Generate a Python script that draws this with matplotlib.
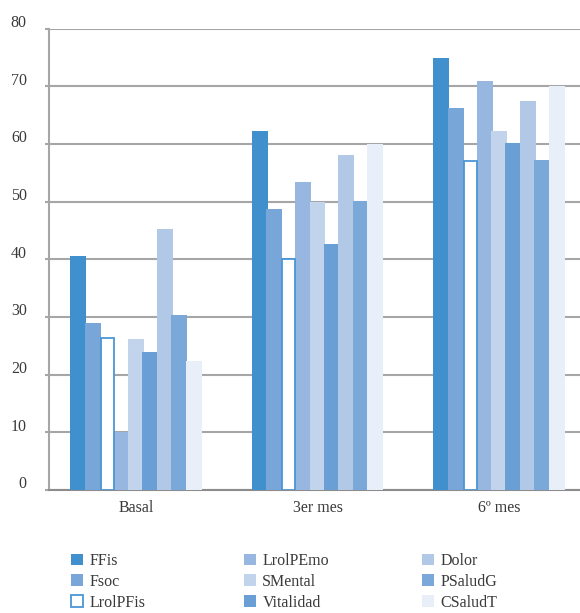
import matplotlib
matplotlib.use('Agg')
import matplotlib.pyplot as plt
import matplotlib.transforms as mtransforms
import numpy as np

plt.rcParams['font.family'] = ['Liberation Serif', 'DejaVu Serif']

# categorías (momentos de evaluación) y dimensiones del SF-36
periodos = ['Basal', '3er mes', '6º mes']
dimensiones = ['FFis', 'Fsoc', 'LrolPFis', 'LrolPEmo', 'SMental',
               'Vitalidad', 'Dolor', 'PSaludG', 'CSaludT']

# puntuaciones medias por dimensión (Basal, 3er mes, 6º mes)
FFis = [40.6, 62.2, 74.9]
Fsoc = [29.0, 48.7, 66.3]
LrolPFis = [26.3, 40.0, 57.0]
LrolPEmo = [10.0, 53.4, 71.0]
SMental = [26.1, 50.0, 62.2]
Vitalidad = [23.9, 42.7, 60.2]
Dolor = [45.2, 58.1, 67.5]
PSaludG = [30.3, 50.2, 57.2]
CSaludT = [22.4, 60.0, 70.1]

series = [FFis, Fsoc, LrolPFis, LrolPEmo, SMental, Vitalidad, Dolor, PSaludG, CSaludT]
colores = ['#4190CE', '#78A6D8', 'white', '#97B7E0', '#C2D3EC',
           '#6A9FD5', '#B2C8E7', '#7AA8D9', '#E8EFF8']

txt_color = '#3a3a3a'

fig = plt.figure(figsize=(5.8, 6.13), dpi=100)
ax = fig.add_axes([0.0845, 0.2007, 0.9155, 0.7525])

x = np.arange(len(periodos))
paso = 0.0793
ancho = 0.088
handles = []
for i, (vals, col) in enumerate(zip(series, colores)):
    pos = x + (i - 4) * paso
    if col == 'white':
        # barra hueca, encima de las vecinas para que se vea el contorno
        b = ax.bar(pos, vals, width=ancho * 0.8, color='white', edgecolor='#4A96D4',
                   linewidth=1.3, label=dimensiones[i], zorder=4)
    else:
        b = ax.bar(pos, vals, width=ancho, color=col, linewidth=0,
                   label=dimensiones[i], zorder=3)
    handles.append(b)

ax.set_xlim(-0.479, 2.446)
ax.set_ylim(0, 80)
ax.set_yticks(np.arange(0, 81, 10))
ax.set_xticks(x)
ax.set_xticklabels(periodos)

ax.yaxis.grid(True, color='#A6A6A6', linewidth=1.5)
ax.set_axisbelow(True)
for s in ['top', 'right']:
    ax.spines[s].set_visible(False)
ax.spines['left'].set_color('#A6A6A6')
ax.spines['left'].set_linewidth(1.5)
ax.spines['bottom'].set_color('#8C8C8C')
ax.spines['bottom'].set_linewidth(1.5)

ax.tick_params(axis='y', length=3, width=1.5, color='#A6A6A6', pad=13,
               labelsize=11.5, labelcolor=txt_color)
ax.tick_params(axis='x', length=0, pad=7, labelsize=11.5, labelcolor=txt_color)
subir = mtransforms.ScaledTranslation(0, 1.2 / 72, fig.dpi_scale_trans)
for lab in ax.get_yticklabels():
    lab.set_verticalalignment('baseline')
    lab.set_transform(lab.get_transform() + subir)

# leyenda en tres columnas fijas
xs_leg = [0.1224, 0.4207, 0.7276]
for c in range(3):
    fig.legend(handles=handles[c * 3:(c + 1) * 3], loc='upper left',
               bbox_to_anchor=(xs_leg[c], 0.098), frameon=False,
               borderpad=0, borderaxespad=0, handlelength=0.75,
               handleheight=0.75, handletextpad=0.4, labelspacing=0.3,
               fontsize=11.5, labelcolor=txt_color)

fig.savefig('out.png', dpi=100)
